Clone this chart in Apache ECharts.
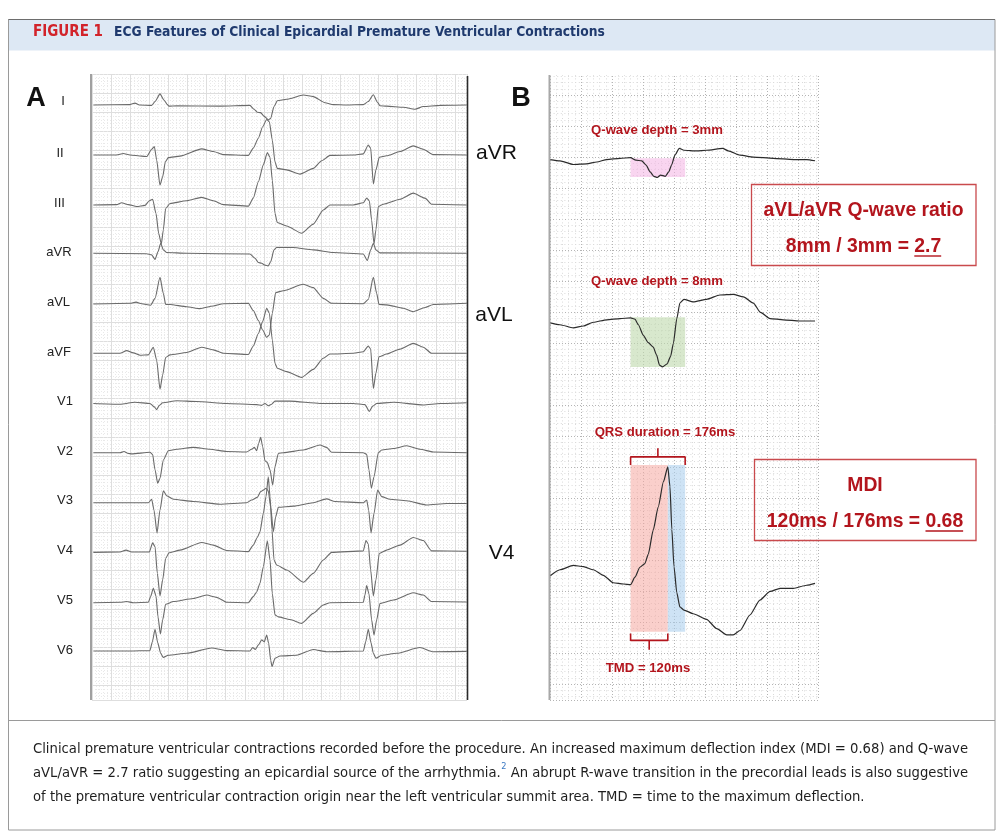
<!DOCTYPE html>
<html><head><meta charset="utf-8">
<script src="https://cdn.jsdelivr.net/npm/echarts@6/dist/echarts.min.js"></script>
<style>html,body{margin:0;padding:0;background:#fff}#c{width:1003px;height:839px}</style>
</head><body><div id="c"></div><script>
// ================= DATA =================
// Panel A: 12-lead ECG, each point = [time ms, amplitude mm (1 mm = 0.1 mV)]
const leadNamesA = ['I','II','III','aVR','aVL','aVF','V1','V2','V3','V4','V5','V6'];
const leadI = [[14,0],[398,0.1],[450,0.5],[496,0],[625,-0.1],[660,0.9],[712,2.9],[754,1.3],[789,0.1],[806,-0.3],[886,-0.2],[1340,-0.3],[1654,-0.1],[1696,-1.1],[1731,-1.9],[1766,-2.0],[1801,-2.9],[1846,-3.9],[1871,-3.5],[1906,-0.4],[1940,1.1],[2038,1.5],[2213,2.6],[2317,2.2],[2440,0.6],[2527,0.1],[2666,0],[2841,0.1],[2893,0.9],[2946,2.7],[2987,0.8],[3015,-0.2],[3085,-0.3],[3260,-0.6],[3382,-1.1],[3469,-0.4],[3644,-0.1],[3923,0]];
const leadII = [[14,0],[258,0],[328,0.4],[398,0],[520,-0.3],[572,-0.4],[625,1.5],[653,2.2],[677,-1.3],[712,-7.9],[740,-5.7],[768,-1.8],[799,-0.7],[921,-0.3],[1148,1.6],[1270,0.9],[1375,0.1],[1637,-0.1],[1689,1.8],[1742,4.4],[1787,7.4],[1829,9.3],[1857,8.7],[1888,3.9],[1916,-1.8],[1940,-3.5],[2038,-3.9],[2178,-5.0],[2317,-3.5],[2405,-1.5],[2492,-0.1],[2736,0],[2841,0.3],[2893,2.6],[2918,1.8],[2946,-7.6],[2973,-3.9],[3008,-0.6],[3085,-0.2],[3225,0.9],[3364,2.4],[3469,1.5],[3574,0.1],[3923,0]];
const leadIII = [[14,0],[258,0.1],[311,0.6],[380,0.1],[468,-0.4],[555,-0.1],[600,1.1],[635,1.5],[670,-2.2],[698,-7.4],[726,-10.2],[747,-6.5],[771,-0.9],[817,0.4],[991,1.1],[1148,2.0],[1270,1.1],[1375,0.1],[1637,-0.3],[1689,1.8],[1742,6.1],[1794,10.5],[1836,13.7],[1864,12.5],[1888,6.5],[1916,-2.2],[1940,-4.6],[2038,-5.5],[2195,-7.4],[2317,-5.0],[2422,-1.3],[2492,0],[2736,0],[2841,0.6],[2876,1.8],[2904,1.1],[2928,-3.9],[2953,-10.2],[2973,-6.5],[2998,-0.4],[3050,0.2],[3225,1.5],[3364,3.1],[3487,1.8],[3556,0.2],[3923,0]];
const leadAVR = [[14,0],[572,-0.1],[625,-0.4],[660,-1.6],[691,0.4],[719,2.6],[747,0.9],[782,0.2],[991,0],[1654,-0.2],[1707,-1.3],[1742,-2.4],[1777,-2.6],[1811,-3.1],[1846,-3.3],[1871,-2.2],[1906,0.9],[1933,1.5],[2108,1.5],[2317,0.9],[2527,0.2],[2841,-0.2],[2883,-1.9],[2918,0.9],[2946,2.6],[2973,0.9],[3015,0.1],[3923,0]];
const leadAVL = [[14,-0.2],[398,0],[461,0.3],[520,-0.1],[614,-0.5],[660,1.3],[712,6.8],[747,2.6],[771,-0.3],[817,-0.3],[991,-0.9],[1131,-1.4],[1270,-0.7],[1375,-0.1],[1637,0],[1689,-1.9],[1742,-4.5],[1787,-7.0],[1829,-8.9],[1857,-8.3],[1888,-2.6],[1923,2.8],[2003,3.3],[2213,5.0],[2317,4.1],[2422,1.3],[2509,0],[2841,-0.1],[2893,1.0],[2946,6.8],[2981,2.6],[3005,-0.3],[3085,-0.4],[3260,-1.3],[3364,-2.2],[3487,-1.1],[3574,-0.3],[3923,0]];
const leadAVF = [[14,0],[293,0],[363,0.7],[433,0.1],[503,-0.5],[590,-0.4],[642,1.6],[677,-1.8],[712,-9.4],[740,-5.7],[771,-1.1],[817,-0.4],[991,0.2],[1148,1.6],[1270,0.9],[1375,0],[1637,-0.3],[1689,1.9],[1742,5.2],[1787,8.3],[1829,11.8],[1857,10.5],[1888,3.5],[1916,-2.6],[1940,-3.9],[2038,-4.8],[2195,-6.3],[2317,-4.2],[2422,-1.3],[2492,-0.2],[2736,0],[2841,0.4],[2893,1.9],[2918,1.1],[2946,-9.2],[2973,-5.2],[3005,-0.9],[3085,-0.2],[3225,1.1],[3364,2.6],[3469,1.6],[3556,0],[3923,0]];
const leadV1 = [[14,-0.2],[293,-0.4],[450,0.1],[607,-0.2],[653,-1.1],[677,-1.8],[705,-0.7],[740,0],[886,0.5],[1096,0.3],[1410,-0.2],[1724,-0.5],[1777,-0.7],[1811,-0.2],[1846,-0.8],[1881,-0.4],[1916,0.4],[2073,0.4],[2387,-0.2],[2736,-0.2],[2858,-0.5],[2904,-2.3],[2939,-0.9],[2981,-0.2],[3155,0.1],[3469,-0.6],[3644,-0.2],[3923,0]];
const leadV2 = [[14,0],[293,0],[335,0.3],[380,-0.2],[415,-0.3],[607,0.1],[635,-0.5],[660,-4.5],[688,-8.0],[712,-6.7],[747,-1.9],[799,0.5],[886,0.9],[1061,1.4],[1236,0.9],[1410,0.3],[1619,0.2],[1672,0.9],[1700,1.4],[1724,0.5],[1745,2.4],[1766,4.0],[1787,1.6],[1811,-2.1],[1836,-2.6],[1864,-4.5],[1892,-8.5],[1916,-3.7],[1951,-0.2],[2003,0],[2213,0.7],[2387,2.0],[2457,1.4],[2509,0.1],[2841,0],[2876,-0.4],[2900,-4.5],[2925,-9.3],[2953,-6.3],[2998,0],[3033,0.7],[3155,1.1],[3295,1.8],[3434,0.9],[3574,0.2],[3923,0]];
const leadV3 = [[14,0],[398,0],[590,0],[625,0.9],[649,-1.9],[681,-7.9],[712,-1.9],[747,3.1],[782,1.8],[852,0.9],[1061,0.3],[1340,-0.4],[1619,0],[1672,0.7],[1731,1.4],[1766,2.9],[1794,3.3],[1822,3.8],[1846,3.1],[1871,-1.1],[1899,-7.6],[1923,-3.7],[1951,-1.2],[2108,-0.9],[2317,0],[2457,1.0],[2544,0.3],[2841,0],[2876,0.7],[2897,-1.9],[2922,-7.9],[2953,-2.8],[2991,3.3],[3033,1.6],[3120,0.9],[3295,0.5],[3504,-0.6],[3714,-0.2],[3923,-0.2]];
const leadV4 = [[14,-0.1],[293,0],[356,0.5],[415,0],[600,0],[635,2.4],[660,1.4],[684,-5.6],[712,-11.5],[740,-7.3],[771,-1.7],[806,-0.2],[921,0.5],[1148,2.5],[1270,1.8],[1410,0.4],[1637,0.1],[1689,1.8],[1731,3.8],[1759,5.3],[1794,10.1],[1822,14.5],[1846,19.7],[1864,14.5],[1885,5.8],[1906,-2.1],[1933,-3.4],[2038,-4.7],[2213,-7.9],[2317,-5.6],[2422,-2.1],[2509,-0.1],[2841,0.3],[2869,3.0],[2893,2.1],[2918,-4.7],[2946,-11.5],[2973,-7.3],[3008,-0.4],[3085,0.5],[3225,1.8],[3364,3.8],[3469,3.0],[3556,0.3],[3923,0.2]];
const leadV5 = [[14,0],[293,0.1],[363,0.3],[433,0],[590,0.1],[614,1.6],[642,3.8],[670,1.8],[691,-3.7],[716,-8.2],[740,-4.5],[771,-0.4],[852,0.3],[1061,1.1],[1201,2.0],[1305,1.4],[1410,0.1],[1637,0],[1689,1.6],[1724,2.8],[1759,5.1],[1794,9.4],[1836,16.2],[1864,11.2],[1888,2.4],[1916,-3.2],[1951,-3.7],[2073,-4.4],[2195,-5.4],[2317,-2.8],[2422,-0.6],[2492,0],[2841,0.1],[2858,2.0],[2876,4.5],[2900,2.4],[2928,-4.5],[2953,-8.5],[2981,-4.5],[3015,-0.2],[3155,0.7],[3364,2.6],[3469,2.0],[3556,0.3],[3923,0.2]];
const leadV6 = [[14,0],[398,0],[607,0.1],[632,2.4],[660,5.7],[688,2.2],[719,-0.6],[747,-1.7],[799,-1.1],[991,-0.6],[1253,0.8],[1410,0.1],[1654,0],[1682,0.9],[1710,0.4],[1742,1.6],[1777,2.9],[1804,2.4],[1829,4.2],[1850,2.0],[1871,-2.4],[1885,-4.1],[1916,-1.9],[1968,-1.3],[2143,-1.1],[2317,0.4],[2457,-0.2],[2841,0],[2866,2.4],[2893,5.7],[2921,2.2],[2946,-0.6],[2973,-1.9],[3033,-1.1],[3190,-0.6],[3434,0.9],[3574,-0.2],[3923,-0.1]];
const leadsA = [leadI,leadII,leadIII,leadAVR,leadAVL,leadAVF,leadV1,leadV2,leadV3,leadV4,leadV5,leadV6];

// Panel B: magnified PVC, [time ms, amplitude mm]
const leadNamesB = ['aVR','aVL','V4'];
const pvcAVR = [[0,-0.2],[32,-0.4],[75,-1.0],[118,-0.9],[151,-0.6],[183,-0.2],[226,0],[260,0.1],[277,-0.3],[296,-0.4],[310,-1.1],[323,-2.2],[335,-2.9],[346,-3.1],[357,-2.7],[372,-2.9],[383,-2.2],[392,-1.1],[403,0.5],[417,1.6],[432,1.3],[473,1.2],[505,1.3],[557,1.6],[575,1.2],[613,0.5],[656,0.2],[720,0],[785,-0.2],[828,-0.2],[855,-0.4]];
const pvcAVL = [[0,-0.9],[32,-1.2],[75,-1.7],[108,-1.4],[140,-0.8],[183,-0.4],[226,-0.2],[260,-0.1],[274,-0.3],[285,-1.2],[301,-2.9],[317,-4.1],[333,-4.8],[344,-6.1],[353,-7.7],[363,-8.0],[378,-7.5],[389,-6.3],[398,-4.2],[409,-0.2],[419,2.3],[432,2.9],[462,2.5],[505,2.9],[548,3.6],[591,3.7],[624,3.3],[656,2.3],[679,0.8],[710,-0.2],[753,-0.4],[806,-0.6],[855,-0.6]];
const pvcV4 = [[0,1.3],[32,2.3],[75,3.0],[108,2.8],[140,2.3],[172,1.4],[204,0.2],[237,0],[260,-0.1],[274,1.1],[290,2.7],[306,3.3],[317,4.8],[333,8.7],[349,12.4],[366,16.5],[380,18.9],[387,15.7],[393,8.8],[400,2.8],[409,-1.4],[419,-3.7],[432,-4.2],[462,-4.8],[505,-5.7],[538,-7.2],[570,-8.2],[591,-8.2],[613,-7.5],[645,-5.0],[677,-2.6],[710,-1.2],[742,-0.7],[785,-0.7],[828,-0.2],[855,0.1]];
const pvcLeads = [pvcAVR, pvcAVL, pvcV4];

// Measurements
const qrsStart = 260;      // ms, onset of PVC QRS in panel B
const qrsDuration = 176;   // ms
const tmd = 120;           // ms, time to maximum deflection
const qDepthAVR = 3;       // mm
const qDepthAVL = 8;       // mm
const v4Window = [-7.7, 19.2]; // mm, vertical extent of the V4 shading

// ================= LAYOUT / STYLE =================
const A = {left:92, top:74, width:375, height:626, pxMs:0.0955, pxMm:3.82};
const B = {left:550, top:64, width:268, height:636, pxMs:0.31, pxMm:6.2};
const baseA = [105,155,205,253.3,303.3,353.3,402.7,452.7,502.7,552,602.7,651];
const baseB = [158.3,317.3,584];
const labelPosA = [[63,101],[60,153],[59.5,203],[59,252],[58.5,302],[59,352],[65,401],[65,451],[65,500],[65,550],[65,600],[65,650]];
const labelPosB = [[496.5,153],[494,315],[501.5,553]];
const RED = '#b3151d';
const BOXRED = '#c94a4d';

const ctx = document.createElement('canvas').getContext('2d');
function textW(font, s){ ctx.font = font; return ctx.measureText(s).width; }

const chart = echarts.init(document.getElementById('c'), null, {renderer:'canvas', width:1003, height:839});
const grids = [], xAxes = [], yAxes = [], series = [];
const hidden = {show:false};

function paper(g, major, minor, majorColor, minorColor, majorType, minorType, tmax, ymax){
  const idx = grids.length;
  grids.push({left:g.left, top:g.top, width:g.width, height:g.height, containLabel:false});
  const common = {axisLine:hidden, axisTick:hidden, axisLabel:hidden,
    minorTick:{show:false, splitNumber:5},
    splitLine:{show:true, lineStyle:{color:majorColor, width:1, type:majorType}},
    minorSplitLine:{show:true, lineStyle:{color:minorColor, width:1, type:minorType}}};
  xAxes.push(Object.assign({gridIndex:idx, type:'value', min:0, max:tmax, interval:major}, common));
  yAxes.push(Object.assign({gridIndex:idx, type:'value', inverse:true, min:0, max:ymax, interval:minor}, common));
  series.push({type:'line', xAxisIndex:idx, yAxisIndex:idx, data:[], silent:true});
}
// Panel A paper: 200 ms / 5 mm big squares
paper(A, 200, 5, '#dedede', '#e9e9e9', 'solid', [1,2], A.width/A.pxMs, A.height/A.pxMm);
// Panel B paper: 100 ms / 5 mm big squares, dotted
paper(B, 100, 5, '#b4b4b4', '#dadada', [1,2], [1,2.6], B.width/B.pxMs, B.height/B.pxMm);

function leadGrid(g, base, halfMm, data, color, width){
  const idx = grids.length;
  const half = halfMm * g.pxMm;
  grids.push({left:g.left, top:base-half, width:g.width, height:2*half});
  xAxes.push({gridIndex:idx, type:'value', min:0, max:g.width/g.pxMs, show:false});
  yAxes.push({gridIndex:idx, type:'value', min:-halfMm, max:halfMm, show:false});
  const s = {type:'line', xAxisIndex:idx, yAxisIndex:idx, data:data, showSymbol:false, silent:true,
    smooth:0.2, smoothMonotone:'x', lineStyle:{color:color, width:width}, z:3};
  series.push(s);
  return s;
}
leadsA.forEach((d,i)=>leadGrid(A, baseA[i], 25, d, '#6a6a6a', 1.1));
const sAVR = leadGrid(B, baseB[0], 25, pvcAVR, '#2b2b2b', 1.2);
const sAVL = leadGrid(B, baseB[1], 25, pvcAVL, '#2b2b2b', 1.2);
const sV4  = leadGrid(B, baseB[2], 25, pvcV4,  '#2b2b2b', 1.2);
const qrsEnd = qrsStart + qrsDuration, tmdEnd = qrsStart + tmd;
sAVR.markArea = {silent:true, itemStyle:{color:'rgba(244,178,228,0.55)'},
  data:[[{xAxis:qrsStart, yAxis:0},{xAxis:qrsEnd, yAxis:-qDepthAVR}]]};
sAVL.markArea = {silent:true, itemStyle:{color:'rgba(190,216,172,0.6)'},
  data:[[{xAxis:qrsStart, yAxis:0},{xAxis:qrsEnd, yAxis:-qDepthAVL}]]};
sV4.markArea = {silent:true, data:[
  [{xAxis:qrsStart, yAxis:v4Window[0], itemStyle:{color:'rgba(246,168,160,0.55)'}},{xAxis:tmdEnd, yAxis:v4Window[1]}],
  [{xAxis:tmdEnd, yAxis:v4Window[0], itemStyle:{color:'rgba(166,204,236,0.55)'}},{xAxis:qrsEnd, yAxis:v4Window[1]}]]};
// braces (drawn in V4 grid coordinates)
const v4Idx = grids.length - 1;
const topY = v4Window[1], bottomY = v4Window[0];
const midQ = (qrsStart+qrsEnd)/2, midT = (qrsStart+tmdEnd)/2;
series.push({type:'line', xAxisIndex:v4Idx, yAxisIndex:v4Idx, showSymbol:false, silent:true, z:6,
  lineStyle:{color:RED, width:1.6},
  data:[[qrsStart,topY],[qrsStart,topY+1.3],[midQ,topY+1.3],[midQ,topY+2.7],[midQ,topY+1.3],[qrsEnd,topY+1.3],[qrsEnd,topY]]});
series.push({type:'line', xAxisIndex:v4Idx, yAxisIndex:v4Idx, showSymbol:false, silent:true, z:6,
  lineStyle:{color:RED, width:1.6},
  data:[[qrsStart,bottomY-0.3],[qrsStart,bottomY-1.4],[midT,bottomY-1.4],[midT,bottomY-2.9],[midT,bottomY-1.4],[tmdEnd,bottomY-1.4],[tmdEnd,bottomY-0.3]]});

// ================= TEXT / GRAPHICS =================
const G = [];
function txt(x,y,text,font,fill,align,extra){
  G.push(Object.assign({type:'text', x:x, y:y, z:60, style:{text:text, font:font, fill:fill,
    align:align||'center', textAlign:align||'center', verticalAlign:'middle', textVerticalAlign:'middle'}}, extra||{}));
}
function line(x1,y1,x2,y2,stroke,w){
  G.push({type:'line', z:55, shape:{x1:x1,y1:y1,x2:x2,y2:y2}, style:{stroke:stroke, lineWidth:w}});
}
function rect(x,y,w,h,fill,stroke,lw,z){
  G.push({type:'rect', z:z||50, shape:{x:x,y:y,width:w,height:h}, style:{fill:fill, stroke:stroke||null, lineWidth:lw||0}});
}
// cover the paper above panel B top edge
rect(540, 52, 290, 23, '#ffffff', null, 0, 40);
// frame & header
rect(8.5, 19.5, 986.5, 810.5, 'none', '#9a9a9a', 1, 45);
rect(8.5, 19.5, 986.5, 31, '#dde8f4', null, 0, 44);
line(8.5, 19.5, 995, 19.5, '#6d6d6d', 1.2);
line(8.5, 720.5, 995, 720.5, '#9a9a9a', 1);
const CF = "'Liberation Sans Narrow','DejaVu Sans Condensed','Roboto Condensed','Noto Sans',sans-serif";
const figW = textW('bold 13px '+CF, 'FIGURE 1');
const figFs = 13*70/figW;
txt(33, 32, 'FIGURE 1', 'bold '+figFs.toFixed(2)+'px '+CF, '#d2232a', 'left');
const titleStr = 'ECG Features of Clinical Epicardial Premature Ventricular Contractions';
const tFs = 13*491/textW('bold 13px '+CF, titleStr);
txt(114, 32, titleStr, 'bold '+tFs.toFixed(2)+'px '+CF, '#1f3a6e', 'left');
// caption
const cap1 = 'Clinical premature ventricular contractions recorded before the procedure. An increased maximum deflection index (MDI = '+(tmd/qrsDuration).toFixed(2)+') and Q-wave';
const cap2a = 'aVL/aVR = '+(qDepthAVL/qDepthAVR).toFixed(1)+' ratio suggesting an epicardial source of the arrhythmia.';
const cap2b = ' An abrupt R-wave transition in the precordial leads is also suggestive';
const cap3 = 'of the premature ventricular contraction origin near the left ventricular summit area. TMD = time to the maximum deflection.';
const cFs = 14*935/textW('14px '+CF, cap1);
const cFont = cFs.toFixed(2)+'px '+CF;
txt(33, 749, cap1, cFont, '#1e1e1e', 'left');
txt(33, 773, cap2a, cFont, '#1e1e1e', 'left');
const w2a = textW(cFont, cap2a);
const supFont = (cFs*0.62).toFixed(2)+'px '+CF;
txt(33+w2a+0.5, 767, '2', supFont, '#3b78c2', 'left');
txt(33+w2a+textW(supFont,'2')+0.5, 773, cap2b, cFont, '#1e1e1e', 'left');
txt(33, 797, cap3, cFont, '#1e1e1e', 'left');

// panel letters and lead labels
const AR = "'Liberation Sans',Arial,sans-serif";
txt(36, 99, 'A', 'bold 27px '+AR, '#111');
txt(521, 99, 'B', 'bold 27px '+AR, '#111');
leadNamesA.forEach((n,i)=>txt(labelPosA[i][0], labelPosA[i][1], n, '13px '+AR, '#222'));
leadNamesB.forEach((n,i)=>txt(labelPosB[i][0], labelPosB[i][1], n, '21px '+AR, '#111'));
// panel borders
line(91, 74, 91, 700, '#a0a0a0', 2);
line(467.5, 76, 467.5, 700, '#2a2a2a', 1.6);
line(549.5, 75, 549.5, 700, '#a8a8a8', 2);

// annotations
const annFs = 12*132/textW('bold 12px '+AR, 'Q-wave depth = 3mm');
const annF = 'bold '+annFs.toFixed(2)+'px '+AR;
txt(657, 130, 'Q-wave depth = '+qDepthAVR+'mm', annF, RED);
txt(657, 281, 'Q-wave depth = '+qDepthAVL+'mm', annF, RED);
txt(665, 432, 'QRS duration = '+qrsDuration+'ms', annF, RED);
txt(648, 668, 'TMD = '+tmd+'ms', annF, RED);

// result boxes
rect(751.5, 184.5, 224.5, 81, 'none', BOXRED, 1.3, 52);
rect(754.5, 459.5, 221.5, 81, 'none', BOXRED, 1.3, 52);
const boxFs = 17*200/textW('bold 17px '+AR, 'aVL/aVR Q-wave ratio');
const boxF = 'bold '+boxFs.toFixed(2)+'px '+AR;
txt(863.5, 211, 'aVL/aVR Q-wave ratio', boxF, RED);
function underlined(cx, y, head, tail){
  const full = head + tail;
  const W = textW(boxF, full), wt = textW(boxF, tail);
  txt(cx, y, full, boxF, RED);
  line(cx+W/2-wt, y+9, cx+W/2, y+9, RED, 1.4);
}
underlined(863.5, 247, qDepthAVL+'mm / '+qDepthAVR+'mm = ', (qDepthAVL/qDepthAVR).toFixed(1));
txt(865, 486, 'MDI', boxF, RED);
underlined(865, 522, tmd+'ms / '+qrsDuration+'ms = ', (tmd/qrsDuration).toFixed(2));

chart.setOption({
  animation:false,
  backgroundColor:'#ffffff',
  grid:grids, xAxis:xAxes, yAxis:yAxes, series:series,
  graphic:{elements:G}
});
</script></body></html>
